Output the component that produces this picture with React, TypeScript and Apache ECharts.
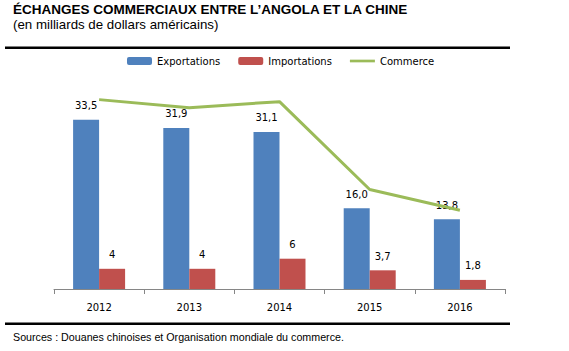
import React, { useEffect, useRef } from "react";
import * as echarts from "echarts";

const categories = ["2012", "2013", "2014", "2015", "2016"];
const exportations = [33.5, 31.9, 31.1, 16.0, 13.8];
const importations = [4, 4, 6, 3.7, 1.8];
const commerce = [37.5, 35.9, 37.1, 19.7, 15.6];

const TITLE = "ÉCHANGES COMMERCIAUX ENTRE L’ANGOLA ET LA CHINE";
const SUBTITLE = "(en milliards de dollars américains)";
const SOURCE = "Sources : Douanes chinoises et Organisation mondiale du commerce.";

const LABEL_FONT = "'DejaVu Sans', sans-serif";
const ARIAL = "'Liberation Sans', Arial, sans-serif";

export default function App() {
  const ref = useRef<HTMLDivElement>(null);
  useEffect(() => {
    if (!ref.current) return;
    const chart = echarts.init(ref.current, null, { renderer: "svg" });
    chart.setOption({
      animation: false,
      backgroundColor: "#ffffff",
      legend: {
        left: 122,
        top: 51,
        itemWidth: 25,
        itemHeight: 8,
        itemGap: 18,
        textStyle: { fontFamily: LABEL_FONT, fontSize: 10, color: "#000" },
        data: [
          { name: "Exportations" },
          { name: "Importations" },
          { name: "Commerce", icon: "path://M0,0L28,0L28,3L0,3Z" },
        ],
      },
      grid: { left: 54, right: 64, top: 87, bottom: 62 },
      xAxis: {
        type: "category",
        data: categories,
        axisLine: { lineStyle: { color: "#868686", width: 1 } },
        axisTick: { show: true, length: 5, lineStyle: { color: "#868686" } },
        axisLabel: { fontFamily: LABEL_FONT, fontSize: 10, color: "#000", margin: 13 },
      },
      yAxis: {
        type: "value",
        min: 0,
        max: 40,
        show: false,
        splitLine: { show: false },
      },
      series: [
        {
          name: "Exportations",
          type: "bar",
          data: exportations,
          barWidth: 26,
          barGap: "0%",
          itemStyle: { color: "#4F81BD" },
          label: {
            show: true,
            position: "top",
            distance: 9,
            fontFamily: LABEL_FONT,
            fontSize: 10,
            color: "#000",
            formatter: (p: any) => Number(p.value).toFixed(1).replace(".", ","),
          },
        },
        {
          name: "Importations",
          type: "bar",
          data: importations,
          barWidth: 26,
          barGap: "0%",
          itemStyle: { color: "#C0504D" },
          label: {
            show: true,
            position: "top",
            distance: 9,
            fontFamily: LABEL_FONT,
            fontSize: 10,
            color: "#000",
            formatter: (p: any) => String(p.value).replace(".", ","),
          },
        },
        {
          name: "Commerce",
          type: "line",
          data: commerce,
          symbol: "none",
          showSymbol: false,
          lineStyle: { color: "#9BBB59", width: 3 },
          itemStyle: { color: "#9BBB59" },
          z: 5,
        },
      ],
      graphic: [
        {
          type: "text",
          left: 13,
          top: 2,
          style: { text: TITLE, font: `bold 13.5px ${ARIAL}`, fill: "#000" },
        },
        {
          type: "text",
          left: 13,
          top: 18,
          style: { text: SUBTITLE, font: `13.3px ${ARIAL}`, fill: "#000" },
        },
        {
          type: "rect",
          shape: { x: 5, y: 46.5, width: 505, height: 2.5 },
          style: { fill: "#000" },
        },
        {
          type: "rect",
          shape: { x: 5, y: 322.5, width: 505, height: 2.5 },
          style: { fill: "#000" },
        },
        {
          type: "text",
          left: 13,
          top: 331,
          style: { text: SOURCE, font: `10.7px ${ARIAL}`, fill: "#000" },
        },
      ],
    });
    return () => chart.dispose();
  }, []);
  return (
    <div
      ref={ref}
      style={{ position: "absolute", left: 0, top: 0, width: 569, height: 351 }}
    />
  );
}
